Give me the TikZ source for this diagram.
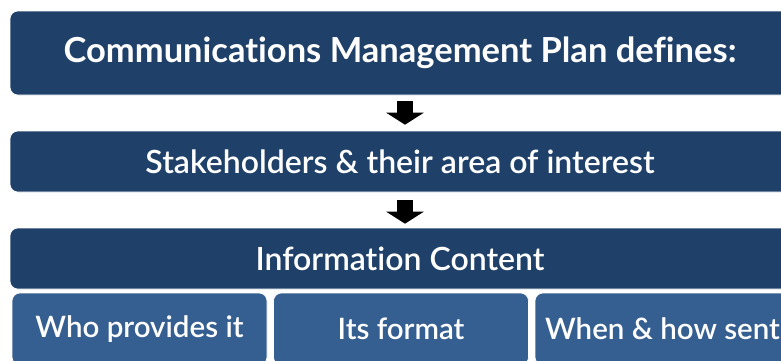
\documentclass[tikz,border=0pt]{standalone}
\usepackage{fontspec}
\setmainfont{Lato}[Ligatures=NoCommon]
\newfontfamily\semifont{Lato Semibold}[Ligatures=NoCommon]
\usepackage{tikz}
\usetikzlibrary{arrows.meta}
\definecolor{navyhead}{HTML}{1F4068}
\definecolor{bluesub}{HTML}{365F91}

\begin{document}
\begin{tikzpicture}[x=1pt, y=-1pt,
  headn/.style={fill=navyhead, draw=white, line width=0.6pt, rounded corners=8pt,
    minimum width=780pt, text=white, font=\semifont\fontsize{32}{38}\selectfont},
  subn/.style={fill=bluesub, draw=white, line width=0.6pt, rounded corners=8pt,
    minimum width=255pt, minimum height=72pt, text=white,
    font=\semifont\fontsize{29.5}{35}\selectfont},
  flown/.style={line width=16pt, -{Triangle[width=37pt, length=12pt]}}]
  \useasboundingbox (0,0) rectangle (781,360);
  \clip (0,0) rectangle (781,360);
  \node[headn, minimum height=84pt, font=\bfseries\fontsize{34.5}{41}\selectfont] (plan) at (400,53) {Communications Management Plan defines:};
  \node[headn, minimum height=61pt] (stake) at (400,161.5) {Stakeholders \& their area of interest};
  \node[headn, minimum height=61pt] (info) at (400,258.5) {Information Content};
  \node[subn] (who) at (139.5,329) {Who provides it};
  \node[subn] (format) at (401,329) {Its format};
  \node[subn] (when) at (662.5,329) {When \& how sent};
  \draw[flown, shorten <=6pt, shorten >=6pt] ([xshift=5pt]plan.south) -- ([xshift=5pt]stake.north);
  \draw[flown, shorten <=8pt, shorten >=4pt] ([xshift=5pt]stake.south) -- ([xshift=5pt]info.north);
\end{tikzpicture}
\end{document}
